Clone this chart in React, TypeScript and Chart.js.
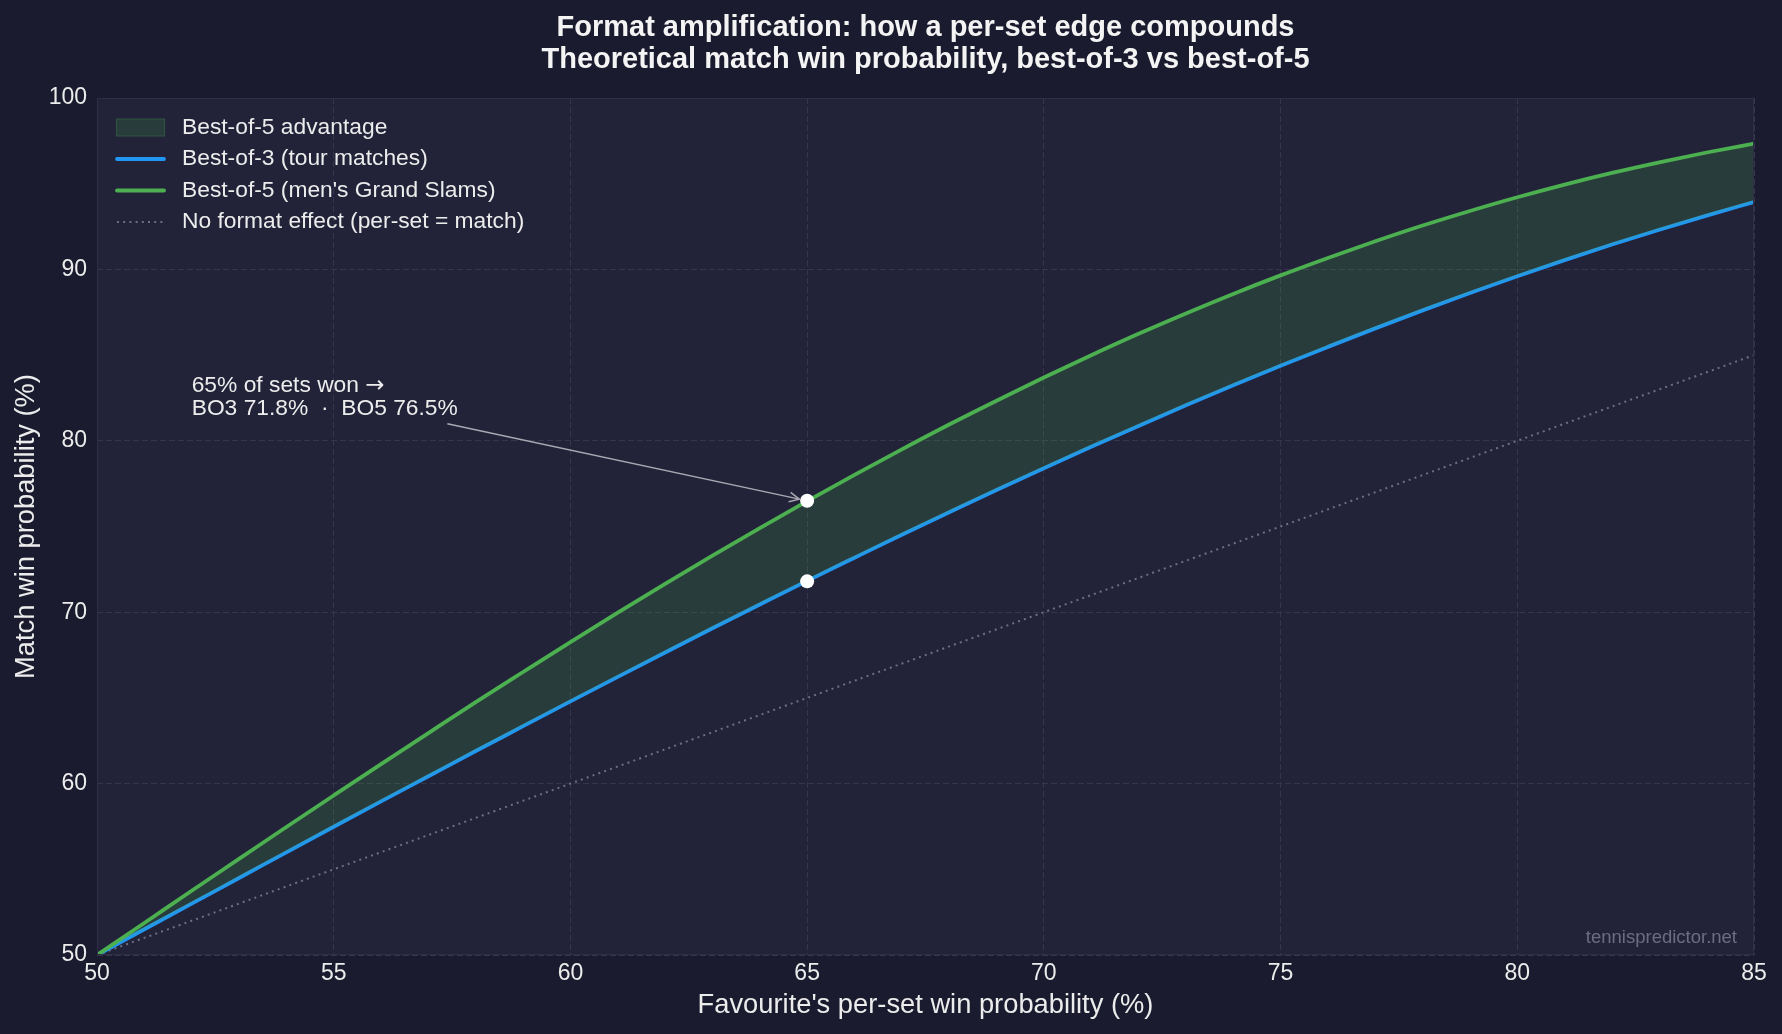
import React, { useEffect, useRef } from "react";
import { Chart, registerables } from "chart.js";

Chart.register(...registerables);

// ---------- data ----------
const perSetWin = [
  50, 51, 52, 53, 54, 55, 56, 57, 58, 59, 60, 61, 62, 63, 64, 65, 66, 67,
  68, 69, 70, 71, 72, 73, 74, 75, 76, 77, 78, 79, 80, 81, 82, 83, 84, 85,
];
const bestOf3 = [
  50.0, 51.5, 53.0, 54.49, 55.99, 57.48, 58.96, 60.43, 61.9, 63.35, 64.8,
  66.23, 67.65, 69.06, 70.45, 71.83, 73.18, 74.52, 75.83, 77.13, 78.4, 79.65,
  80.87, 82.07, 83.24, 84.38, 85.48, 86.56, 87.61, 88.62, 89.6, 90.54, 91.45,
  92.31, 93.14, 93.93,
];
const bestOf5 = [
  50.0, 51.87, 53.75, 55.61, 57.47, 59.31, 61.14, 62.95, 64.75, 66.51, 68.26,
  69.97, 71.65, 73.3, 74.91, 76.48, 78.01, 79.5, 80.95, 82.34, 83.69, 84.99,
  86.24, 87.43, 88.57, 89.65, 90.67, 91.64, 92.56, 93.41, 94.21, 94.95, 95.63,
  96.25, 96.82, 97.34,
];
const noEffectX = [50, 85];
const noEffectY = [50, 85];

const highlightSet = 65;
const highlightBO3 = 71.8;
const highlightBO5 = 76.5;

const xTickValues = [50, 55, 60, 65, 70, 75, 80, 85];
const yTickValues = [50, 60, 70, 80, 90, 100];

const titleLines = [
  "Format amplification: how a per-set edge compounds",
  "Theoretical match win probability, best-of-3 vs best-of-5",
];
const xAxisTitle = "Favourite's per-set win probability (%)";
const yAxisTitle = "Match win probability (%)";
const legendLabels = [
  "Best-of-5 advantage",
  "Best-of-3 (tour matches)",
  "Best-of-5 (men's Grand Slams)",
  "No format effect (per-set = match)",
];
const annotationLine1 = "65% of sets won ";
const annotationArrow = "\u2192";
const annotationLine2 = "BO3 71.8%  \u00b7  BO5 76.5%";
const watermark = "tennispredictor.net";

// ---------- styles ----------
const FONT = "'Liberation Sans', Arial, Helvetica, sans-serif";
const OUTER_BG = "#1a1b2e";
const PLOT_BG = "#222339";
const GRID = "#35364b";
const BLUE = "#2196F3";
const GREEN = "#4CAF50";
const FILL = "rgba(76,175,80,0.18)";
const DOTTED = "#6e6f80";
const TEXT = "#ececec";

export default function App() {
  const ref = useRef<HTMLCanvasElement | null>(null);

  useEffect(() => {
    document.body.style.margin = "0";
    document.body.style.background = OUTER_BG;
    const canvas = ref.current;
    if (!canvas) return;

    const bgPlugin = {
      id: "bg",
      beforeDraw(chart: any) {
        const { ctx, chartArea: a } = chart;
        ctx.save();
        ctx.fillStyle = OUTER_BG;
        ctx.fillRect(0, 0, chart.width, chart.height);
        ctx.fillStyle = PLOT_BG;
        ctx.fillRect(a.left, a.top, a.right - a.left, a.bottom - a.top);
        ctx.restore();
      },
    };

    const overlayPlugin = {
      id: "overlay",
      afterDatasetsDraw(chart: any) {
        const { ctx, chartArea: a, scales } = chart;
        const xs = scales.x;
        const ys = scales.y;
        ctx.save();
        ctx.strokeStyle = "#2e2f45";
        ctx.lineWidth = 1;
        ctx.strokeRect(a.left + 0.5, a.top + 0.5, a.right - a.left - 1, a.bottom - a.top - 1);

        // annotation arrow
        const sx = xs.getPixelForValue(57.4);
        const sy = ys.getPixelForValue(81);
        const tx = xs.getPixelForValue(highlightSet);
        const ty = ys.getPixelForValue(highlightBO5);
        const dx = tx - sx;
        const dy = ty - sy;
        const len = Math.hypot(dx, dy);
        const ux = dx / len;
        const uy = dy / len;
        const ex = tx - ux * 8;
        const ey = ty - uy * 8;
        ctx.strokeStyle = "#a9a9b2";
        ctx.lineWidth = 1.5;
        ctx.beginPath();
        ctx.moveTo(sx, sy);
        ctx.lineTo(ex, ey);
        ctx.stroke();
        const ang = Math.atan2(uy, ux);
        const hl = 11;
        const ha = 0.45;
        ctx.beginPath();
        ctx.moveTo(ex - hl * Math.cos(ang - ha), ey - hl * Math.sin(ang - ha));
        ctx.lineTo(ex, ey);
        ctx.lineTo(ex - hl * Math.cos(ang + ha), ey - hl * Math.sin(ang + ha));
        ctx.stroke();

        // annotation text
        ctx.fillStyle = TEXT;
        ctx.font = `22.8px ${FONT}`;
        ctx.textAlign = "left";
        ctx.textBaseline = "middle";
        const tx0 = xs.getPixelForValue(52);
        const ty0 = ys.getPixelForValue(81);
        ctx.fillText(annotationLine1, tx0, ty0 - 37.5);
        const w1 = ctx.measureText(annotationLine1).width;
        ctx.font = `22.8px 'DejaVu Sans', sans-serif`;
        ctx.fillText(annotationArrow, tx0 + w1, ty0 - 37.5);
        ctx.font = `22.8px ${FONT}`;
        ctx.fillText(annotationLine2, tx0, ty0 - 14.5);
        ctx.restore();
      },
      afterDraw(chart: any) {
        const { ctx, chartArea: a } = chart;
        ctx.save();
        // title
        ctx.fillStyle = "#f4f4f4";
        ctx.font = `bold 29px ${FONT}`;
        ctx.textAlign = "center";
        ctx.textBaseline = "alphabetic";
        const cx = (a.left + a.right) / 2;
        ctx.fillText(titleLines[0], cx, 36);
        ctx.fillText(titleLines[1], cx, 68);

        // legend
        const rows = [127.5, 159, 190.5, 222];
        const hx0 = a.left + 19;
        const hx1 = a.left + 68;
        ctx.fillStyle = FILL;
        ctx.fillRect(hx0, rows[0] - 9, hx1 - hx0, 18);
        ctx.strokeStyle = "rgba(76,175,80,0.22)";
        ctx.lineWidth = 1;
        ctx.strokeRect(hx0 + 0.5, rows[0] - 8.5, hx1 - hx0 - 1, 17);

        ctx.lineCap = "round";
        ctx.lineWidth = 3.8;
        ctx.strokeStyle = BLUE;
        ctx.beginPath();
        ctx.moveTo(hx0 + 1, rows[1]);
        ctx.lineTo(hx1 - 1, rows[1]);
        ctx.stroke();
        ctx.strokeStyle = GREEN;
        ctx.beginPath();
        ctx.moveTo(hx0 + 1, rows[2]);
        ctx.lineTo(hx1 - 1, rows[2]);
        ctx.stroke();
        ctx.lineCap = "butt";
        ctx.lineWidth = 2;
        ctx.strokeStyle = DOTTED;
        ctx.setLineDash([2, 4.2]);
        ctx.beginPath();
        ctx.moveTo(hx0 + 1, rows[3]);
        ctx.lineTo(hx1 - 2, rows[3]);
        ctx.stroke();
        ctx.setLineDash([]);

        ctx.fillStyle = TEXT;
        ctx.font = `22.8px ${FONT}`;
        ctx.textAlign = "left";
        ctx.textBaseline = "middle";
        legendLabels.forEach((t, i) => ctx.fillText(t, a.left + 85, rows[i]));

        // watermark
        ctx.fillStyle = "#6c6d7f";
        ctx.font = `18.5px ${FONT}`;
        ctx.textAlign = "right";
        ctx.fillText(watermark, a.right - 17, a.bottom - 17);
        ctx.restore();
      },
    };

    const chart = new Chart(canvas, {
      type: "line",
      data: {
        datasets: [
          {
            label: "highlight",
            type: "scatter",
            data: [
              { x: highlightSet, y: highlightBO3 },
              { x: highlightSet, y: highlightBO5 },
            ],
            pointRadius: 7,
            pointBackgroundColor: "#ffffff",
            pointBorderColor: "#ffffff",
            pointBorderWidth: 0,
            showLine: false,
            order: 0,
          } as any,
          {
            label: legendLabels[1],
            data: perSetWin.map((x, i) => ({ x, y: bestOf3[i] })),
            borderColor: BLUE,
            borderWidth: 3.8,
            pointRadius: 0,
            cubicInterpolationMode: "monotone",
            fill: false,
            order: 2,
          },
          {
            label: legendLabels[2],
            data: perSetWin.map((x, i) => ({ x, y: bestOf5[i] })),
            borderColor: GREEN,
            borderWidth: 3.8,
            pointRadius: 0,
            cubicInterpolationMode: "monotone",
            backgroundColor: FILL,
            fill: { target: 1 },
            order: 1,
          },
          {
            label: legendLabels[3],
            data: noEffectX.map((x, i) => ({ x, y: noEffectY[i] })),
            borderColor: DOTTED,
            borderWidth: 2,
            borderDash: [2, 4.2],
            pointRadius: 0,
            fill: false,
            order: 3,
          },
        ],
      },
      options: {
        responsive: false,
        animation: false,
        devicePixelRatio: 1,
        layout: { padding: { top: 98, right: 28, bottom: 0, left: 0 } },
        plugins: {
          legend: { display: false },
          tooltip: { enabled: false },
          title: { display: false },
        },
        scales: {
          x: {
            type: "linear",
            min: 50,
            max: 85,
            afterBuildTicks: (s: any) => {
              s.ticks = xTickValues.map((v) => ({ value: v }));
            },
            afterFit: (s: any) => {
              s.height = 79;
              s.paddingLeft = 0;
              s.paddingRight = 0;
              s.paddingTop = 0;
              s.paddingBottom = 0;
            },
            ticks: {
              color: TEXT,
              font: { family: FONT, size: 23 },
              padding: 5,
              maxRotation: 0,
              autoSkip: false,
              callback: (v: any) => String(v),
            },
            grid: { color: GRID, lineWidth: 1, drawTicks: false },
            border: { display: false, dash: [6, 3] },
            title: {
              display: true,
              text: xAxisTitle,
              color: TEXT,
              font: { family: FONT, size: 27.3 },
              padding: { top: 0, bottom: 12 },
            },
          },
          y: {
            type: "linear",
            min: 50,
            max: 100,
            afterBuildTicks: (s: any) => {
              s.ticks = yTickValues.map((v) => ({ value: v }));
            },
            afterFit: (s: any) => {
              s.width = 97;
              s.paddingTop = 0;
              s.paddingBottom = 0;
              s.paddingLeft = 0;
              s.paddingRight = 0;
            },
            ticks: {
              color: TEXT,
              font: { family: FONT, size: 23 },
              padding: 10,
              autoSkip: false,
              callback: (v: any) => String(v),
            },
            grid: { color: GRID, lineWidth: 1, drawTicks: false },
            border: { display: false, dash: [6, 3] },
            title: {
              display: true,
              text: yAxisTitle,
              color: TEXT,
              font: { family: FONT, size: 27.3 },
              padding: { top: 10, bottom: 0 },
            },
          },
        },
      },
      plugins: [bgPlugin, overlayPlugin],
    } as any);

    return () => chart.destroy();
  }, []);

  return (
    <div style={{ width: 1782, height: 1034, position: "relative", background: OUTER_BG }}>
      <canvas ref={ref} width={1782} height={1034} style={{ display: "block" }} />
    </div>
  );
}
